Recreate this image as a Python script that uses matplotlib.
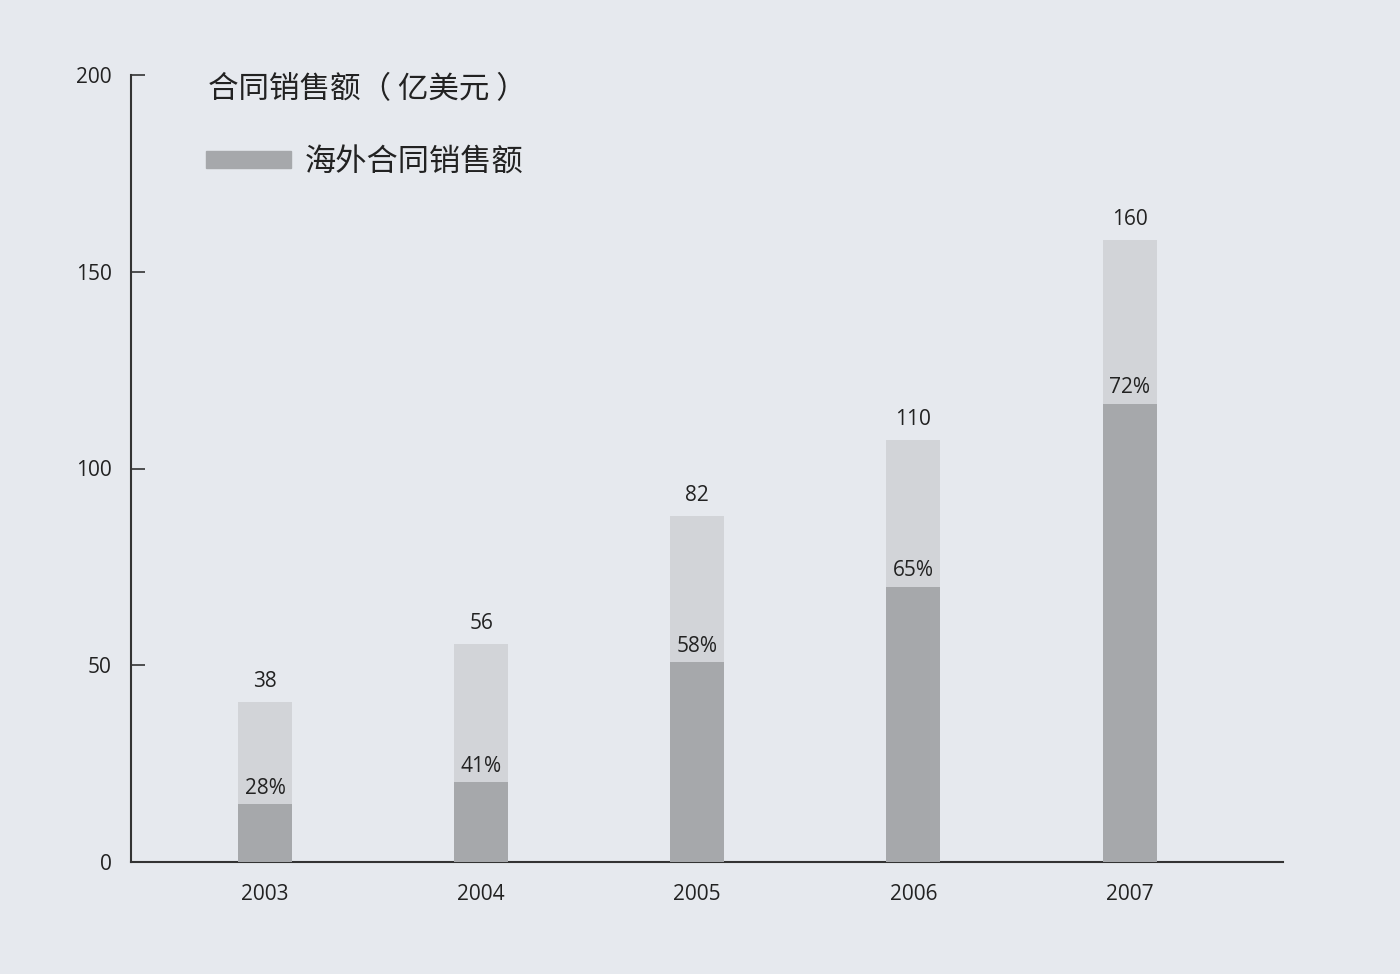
import matplotlib.pyplot as plt
from matplotlib.patches import Rectangle

plt.rcParams['font.family'] = ['Open Sans', 'Noto Sans CJK SC', 'DejaVu Sans']

years = ['2003', '2004', '2005', '2006', '2007']
# bar heights as drawn in the picture
total_bar = [40.7, 55.4, 87.9, 107.2, 158.1]
overseas_bar = [14.7, 20.3, 50.8, 69.9, 116.4]
# labels printed on the chart
total_labels = ['38', '56', '82', '110', '160']
share_labels = ['28%', '41%', '58%', '65%', '72%']

bg = '#e6e9ee'
light = '#d2d4d8'
dark = '#a6a8ab'
ink = '#222222'

fig = plt.figure(figsize=(14, 9.74), dpi=100, facecolor=bg)
ax = fig.add_axes([131 / 1400, 112 / 974, 1152 / 1400, 787 / 974], facecolor=bg)

x = range(len(years))
ax.bar(x, total_bar, width=0.25, color=light, zorder=2)
ax.bar(x, overseas_bar, width=0.25, color=dark, zorder=3)

for i in x:
    ax.annotate(total_labels[i], (i, total_bar[i]), xytext=(0, 7), textcoords='offset points',
                ha='center', va='bottom', fontsize=15, color=ink)
    ax.annotate(share_labels[i], (i, overseas_bar[i]), xytext=(0, 4), textcoords='offset points',
                ha='center', va='bottom', fontsize=15, color=ink)

ax.set_xlim(-0.62, 4.71)
ax.set_ylim(0, 200)
ax.set_yticks([0, 50, 100, 150, 200])
ax.set_xticks(list(x))
ax.set_xticklabels(years)
ax.tick_params(axis='y', direction='in', length=10, width=1.2, color='#333333',
               labelsize=15, labelcolor=ink, pad=14)
ax.tick_params(axis='x', length=0, labelsize=15, labelcolor=ink, pad=16)
for s in ['top', 'right']:
    ax.spines[s].set_visible(False)
for s in ['left', 'bottom']:
    ax.spines[s].set_color('#333333')
    ax.spines[s].set_linewidth(1.5)

# title and legend
fig.text(208 / 1400, 1 - 90 / 974, '合同销售额（ 亿美元 ）', fontsize=22, color=ink,
         va='center', ha='left', family=['Noto Sans CJK SC', 'DejaVu Sans'])
fig.patches.append(Rectangle((206 / 1400, 1 - 168 / 974), 85 / 1400, 17 / 974,
                             transform=fig.transFigure, color=dark, figure=fig))
fig.text(305 / 1400, 1 - 163 / 974, '海外合同销售额', fontsize=22.5, color=ink,
         va='center', ha='left', family=['Noto Sans CJK SC', 'DejaVu Sans'])

fig.savefig('out.png', dpi=100, facecolor=bg)
